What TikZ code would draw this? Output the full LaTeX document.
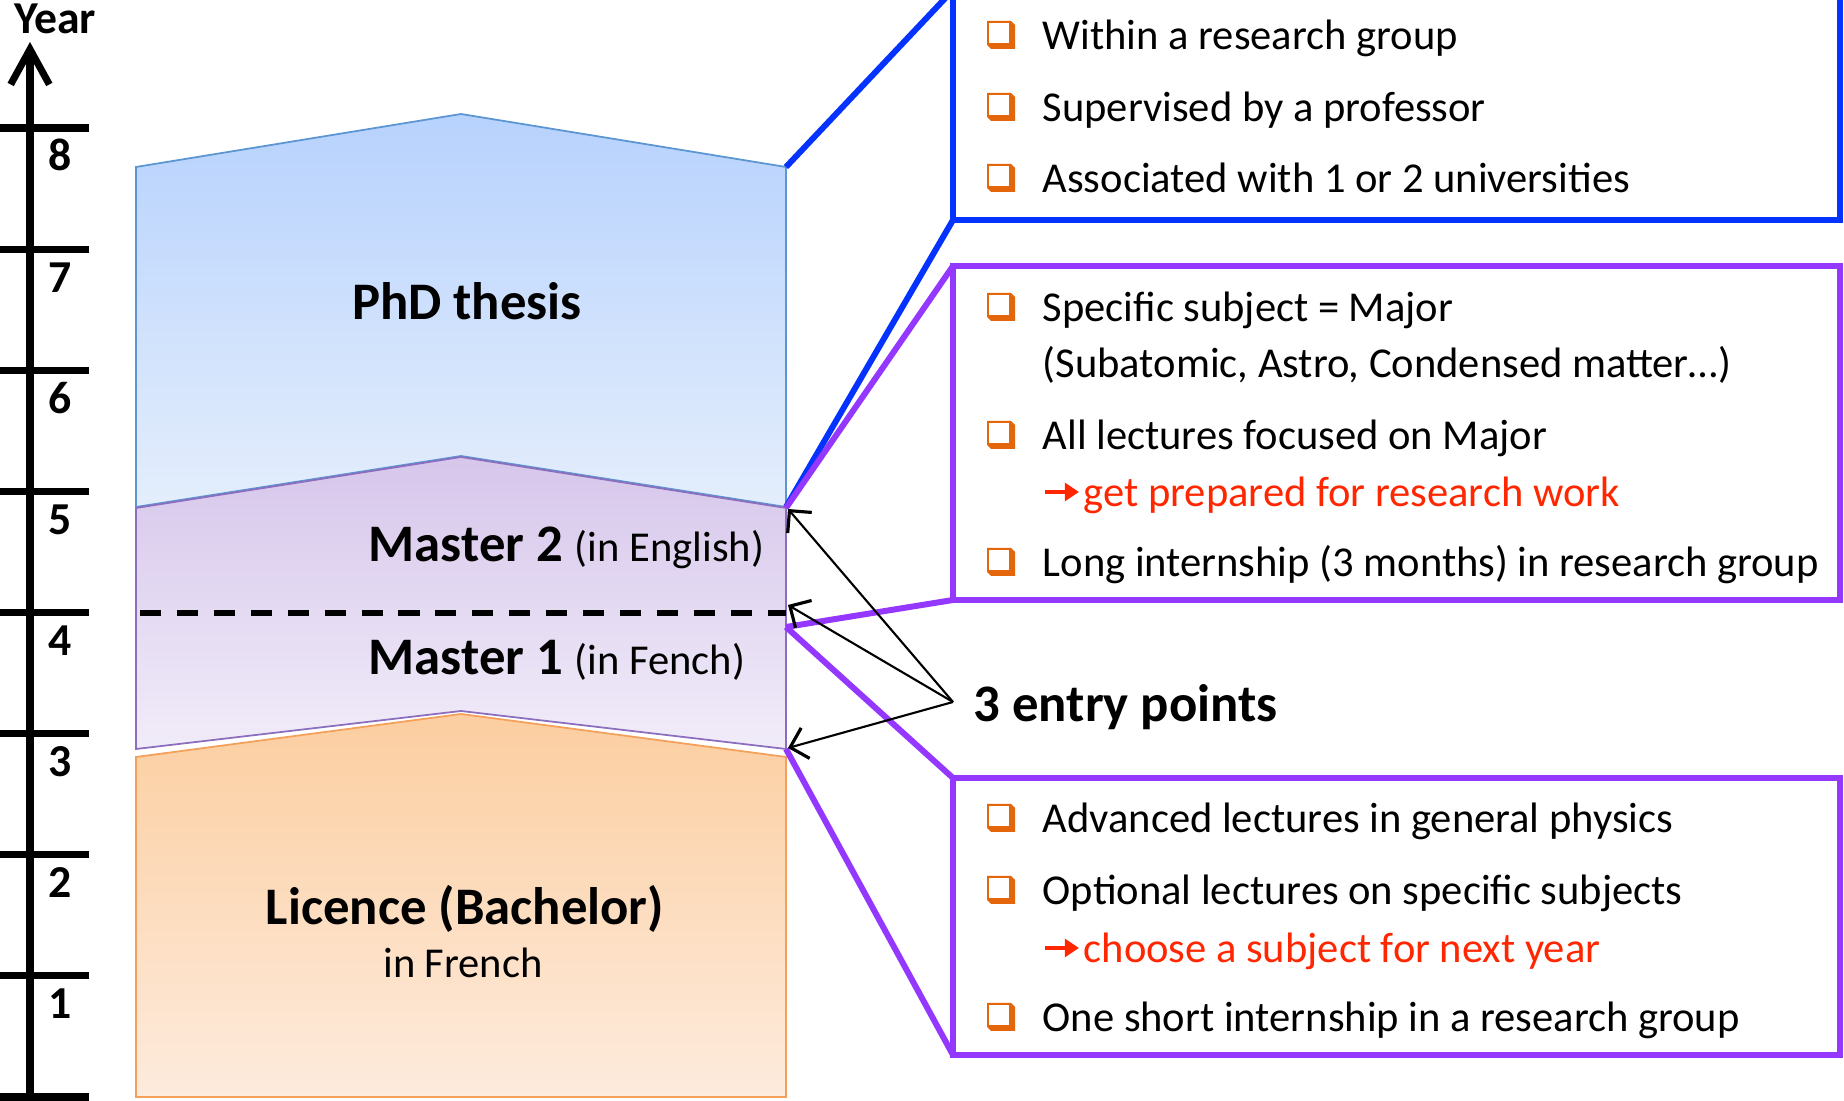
\documentclass[tikz,border=0pt]{standalone}
\usepackage{fontspec}
\setmainfont{Carlito}
\usetikzlibrary{arrows.meta,positioning,fit,calc}
\definecolor{phdblue}{RGB}{4,51,255}
\definecolor{grape}{RGB}{148,55,255}
\definecolor{bulletorange}{RGB}{228,102,10}
\definecolor{notered}{RGB}{255,38,0}
\definecolor{phdtop}{RGB}{183,210,253}
\definecolor{phdbot}{RGB}{228,238,252}
\definecolor{phdline}{RGB}{91,150,210}
\definecolor{mastop}{RGB}{214,198,235}
\definecolor{masbot}{RGB}{241,236,249}
\definecolor{masline}{RGB}{140,110,190}
\definecolor{lictop}{RGB}{252,206,160}
\definecolor{licbot}{RGB}{253,235,221}
\definecolor{licline}{RGB}{245,160,90}

\begin{document}
\begin{tikzpicture}[x=0.01cm, y=-0.01cm,
    infobox/.style={draw, line width=1.7pt, inner sep=0pt, outer sep=0pt},
    linkline/.style={line width=1.7pt},
    stagebox/.style={line width=0.5pt},
    itemtext/.style={anchor=base west, inner sep=0pt, font=\fontsize{12.1}{14}\selectfont},
    stagetitle/.style={anchor=base, inner sep=0pt, font=\fontsize{15}{18}\selectfont\bfseries},
    yearlabel/.style={anchor=base, inner sep=0pt, font=\fontsize{13}{15}\selectfont\bfseries},
    entryarrow/.style={-{Straight Barb[length=4.5pt,width=9pt,line width=0.9pt]}, line width=0.6pt},
    redarrow/.style={-{Triangle[length=4pt,width=5pt]}, line width=1pt, notered},
    bullet/.pic={
      \fill[bulletorange] (-14,-14) -- (10,-14) -- (14,-10) -- (14,14) -- (-10,14) -- (-14,10) -- cycle;
      \fill[white] (-12,-12) rectangle (8,8);
    }
]
\useasboundingbox (0,0) rectangle (1844,1101);
\clip (0,0) rectangle (1844,1101);

% year axis
\draw[line width=2pt, -{Straight Barb[length=10pt,width=11pt]}] (30,1101) -- (30,42);
\node[yearlabel] (year) at (55,34) {Year};
\foreach \n in {0,...,8}{
  \draw[line width=2pt] (0,1097-121.125*\n) -- (89,1097-121.125*\n);
}
\foreach \n in {1,...,8}{
  \node[yearlabel] (y\n) at (60,1140-121.125*\n) {\n};
}

% stages
\coordinate (phd-ne) at (786,167);
\coordinate (phd-se) at (786,507);
\coordinate (mas-ne) at (786,508);
\coordinate (mas-mid) at (786,627);
\coordinate (mas-se) at (786,749);
\shadedraw[stagebox, draw=phdline, top color=phdtop, bottom color=phdbot]
  (136,167) -- (461,114) -- (phd-ne) -- (phd-se) -- (461,456) -- (136,507) -- cycle;
\shadedraw[stagebox, draw=masline, top color=mastop, bottom color=masbot]
  (136,508) -- (461,457) -- (mas-ne) -- (mas-se) -- (461,711) -- (136,749) -- cycle;
\shadedraw[stagebox, draw=licline, top color=lictop, bottom color=licbot]
  (136,757) -- (461,714) -- (786,757) -- (786,1097) -- (136,1097) -- cycle;
\draw[line width=1.6pt, dash pattern=on 6pt off 4.5pt] (140,613) -- (786,613);

\node[stagetitle] (phd) at (467,320) {PhD thesis};
\node[stagetitle, anchor=base west] (m2) at (368,562)
  {Master 2 {\mdseries\fontsize{12.1}{14}\selectfont (in English)}};
\node[stagetitle, anchor=base west] (m1) at (368,675)
  {Master 1 {\mdseries\fontsize{12.1}{14}\selectfont (in Fench)}};
\node[stagetitle] (lic) at (465,925) {Licence (Bachelor)};
\node[stagetitle, font=\fontsize{12.1}{14}\selectfont\mdseries] (licfr) at (463,978) {in French};

% info boxes
\node[infobox, draw=phdblue, fit={(953,-10) (1840,220)}] (phdinfo) {};
\node[infobox, draw=grape, fit={(953,266) (1840,600)}] (m2info) {};
\node[infobox, draw=grape, fit={(953,778) (1840,1055)}] (m1info) {};

\draw[linkline, phdblue] (phd-ne) -- (phdinfo.north west);
\draw[linkline, phdblue] (phd-se) -- (phdinfo.south west);
\draw[linkline, grape] (mas-ne) -- (m2info.north west);
\draw[linkline, grape] (mas-mid) -- (m2info.south west);
\draw[linkline, grape] (mas-mid) -- (m1info.north west);
\draw[linkline, grape] (mas-se) -- (m1info.south west);

% PhD items
\pic at (1001,35) {bullet};
\node[itemtext] (p1) at (1042,50) {Within a research group};
\pic at (1001,107) {bullet};
\node[itemtext] (p2) at (1042,122) {Supervised by a professor};
\pic at (1001,178) {bullet};
\node[itemtext] (p3) at (1042,193) {Associated with 1 or 2 universities};

% Master 2 items
\pic at (1001,307) {bullet};
\node[itemtext] (ma1) at (1042,322) {Specific subject = Major};
\node[itemtext] (ma1b) at (1042,378) {(Subatomic, Astro, Condensed matter…)};
\pic at (1001,435) {bullet};
\node[itemtext] (ma2) at (1042,450) {All lectures focused on Major};
\node[itemtext, text=notered] (prep) at (1083,507) {get prepared for research work};
\draw[redarrow] ($(prep.base west)+(-38,-15)$) -- ($(prep.base west)+(-4,-15)$);
\pic at (1001,562) {bullet};
\node[itemtext] (ma3) at (1042,577) {Long internship (3 months) in research group};

% Master 1 items
\pic at (1001,818) {bullet};
\node[itemtext] (mb1) at (1042,833) {Advanced lectures in general physics};
\pic at (1001,890) {bullet};
\node[itemtext] (mb2) at (1042,905) {Optional lectures on specific subjects};
\node[itemtext, text=notered] (choose) at (1083,963) {choose a subject for next year};
\draw[redarrow] ($(choose.base west)+(-38,-15)$) -- ($(choose.base west)+(-4,-15)$);
\pic at (1001,1017) {bullet};
\node[itemtext] (mb3) at (1042,1032) {One short internship in a research group};

% entry points
\node[stagetitle, anchor=base west] (entry) at (973,722) {3 entry points};
\coordinate (entry-from) at (953,702);
\coordinate (entry-m2) at (788,509);
\coordinate (entry-m1) at (788,605);
\coordinate (entry-lic) at (788,748);
\foreach \t in {entry-m2,entry-m1,entry-lic}
  \draw[entryarrow] (entry-from) -- (\t);
\end{tikzpicture}
\end{document}
